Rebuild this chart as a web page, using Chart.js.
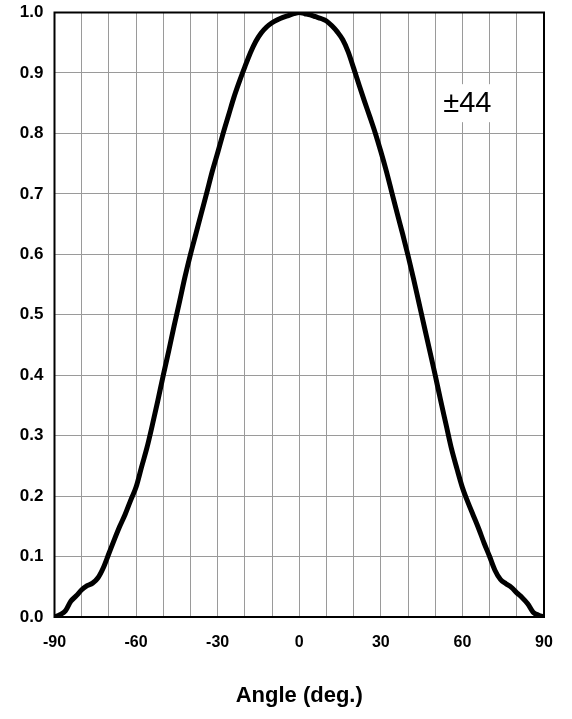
<!DOCTYPE html>
<html>
<head>
<meta charset="utf-8">
<script src="https://cdn.jsdelivr.net/npm/chart.js@4"></script>
<style>
html,body{margin:0;padding:0;background:#fff;}
#wrap{width:572px;height:719px;position:relative;}
</style>
</head>
<body>
<div id="wrap"><canvas id="c" width="572" height="719"></canvas></div>
<script>
const angles = [-90,-88,-86,-84,-82,-80,-78,-76,-74,-72,-70,-68,-66,-64,-62,-60,-58,-56,-54,-52,-50,-48,-46,-44,-42,-40,-38,-36,-34,-32,-30,-28,-26,-24,-22,-20,-18,-16,-14,-12,-10,-8,-6,-4,-2,0,2,4,6,8,10,12,14,16,18,20,22,24,26,28,30,32,34,36,38,40,42,44,46,48,50,52,54,56,58,60,62,64,66,68,70,72,74,76,78,80,82,84,86,88,90];
const intensity = [0.000,0.004,0.010,0.026,0.035,0.045,0.052,0.056,0.065,0.082,0.105,0.128,0.150,0.170,0.193,0.215,0.248,0.280,0.318,0.358,0.400,0.440,0.482,0.522,0.563,0.600,0.634,0.668,0.702,0.737,0.768,0.800,0.830,0.860,0.886,0.910,0.933,0.952,0.966,0.976,0.983,0.988,0.992,0.995,0.998,1.000,0.998,0.996,0.993,0.990,0.986,0.978,0.968,0.955,0.935,0.908,0.880,0.853,0.827,0.800,0.770,0.738,0.703,0.668,0.634,0.598,0.560,0.520,0.480,0.440,0.400,0.358,0.318,0.278,0.245,0.214,0.190,0.168,0.146,0.122,0.100,0.077,0.062,0.055,0.049,0.040,0.032,0.022,0.008,0.003,0.000];
const xTicks = [-90,-60,-30,0,30,60,90];
const xTitle = 'Angle (deg.)';
const annotationText = '±44';

const FONT = 'Arial, "Liberation Sans", sans-serif';

const framePlugin = {
  id: 'frame',
  afterDraw(chart) {
    const {ctx, chartArea: a} = chart;
    ctx.save();
    const xs = chart.scales.x, ys = chart.scales.y;
    const cx = xs.getPixelForValue(61.8), cy = ys.getPixelForValue(0.85);
    ctx.font = '29px ' + FONT;
    const w = ctx.measureText(annotationText).width;
    ctx.fillStyle = '#fff';
    ctx.fillRect(cx - w/2 - 5, cy - 19, w + 10, 38);
    ctx.fillStyle = '#000';
    ctx.textAlign = 'center';
    ctx.textBaseline = 'middle';
    ctx.fillText(annotationText, cx, cy + 1);
    ctx.strokeStyle = '#000';
    ctx.lineWidth = 2;
    ctx.strokeRect(a.left, a.top, a.right - a.left, a.bottom - a.top);
    ctx.restore();
  }
};

new Chart(document.getElementById('c'), {
  type: 'line',
  data: {
    datasets: [{
      data: angles.map((a, i) => ({x: a, y: intensity[i]})),
      borderColor: '#000',
      borderWidth: 5,
      pointRadius: 0,
      cubicInterpolationMode: 'monotone',
      fill: false
    }]
  },
  options: {
    responsive: false,
    animation: false,
    devicePixelRatio: 1,
    layout: {padding: {left: 0, right: 28, top: 12.5, bottom: 0}},
    plugins: {legend: {display: false}, tooltip: {enabled: false}},
    scales: {
      x: {
        type: 'linear', min: -90, max: 90,
        afterBuildTicks(s) {
          const t = [];
          for (let v = -90; v <= 90; v += 10) t.push({value: v});
          s.ticks = t;
        },
        afterFit(s) { s.height = 102; s.paddingLeft = 0; s.paddingRight = 0; },
        grid: {color: '#9a9a9a', lineWidth: 1, drawTicks: false},
        border: {display: false},
        ticks: {
          autoSkip: false, maxRotation: 0, padding: 16,
          color: '#000', font: {family: FONT, size: 16, weight: 'bold'},
          callback: v => xTicks.includes(v) ? String(v) : ''
        },
        title: {display: true, text: xTitle, color: '#000', padding: {top: 20, bottom: 10},
          font: {family: FONT, size: 22, weight: 'bold'}}
      },
      y: {
        min: 0, max: 1,
        afterFit(s) { s.width = 54.5; s.paddingTop = 0; s.paddingBottom = 0; },
        grid: {color: '#9a9a9a', lineWidth: 1, drawTicks: false},
        border: {display: false},
        ticks: {
          stepSize: 0.1, padding: 11,
          color: '#000', font: {family: FONT, size: 17, weight: 'bold'},
          callback: v => Number(v).toFixed(1)
        }
      }
    }
  },
  plugins: [framePlugin]
});
</script>
</body>
</html>
